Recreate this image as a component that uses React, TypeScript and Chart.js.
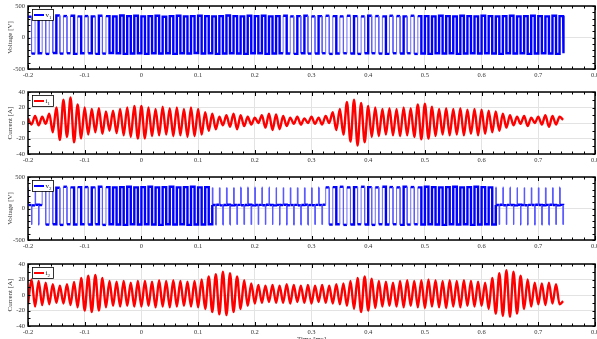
import React, { useEffect, useRef } from 'react';
import { Chart, registerables } from 'chart.js';

Chart.register(...registerables);

// ---------- data ----------
const T_START = -0.2; // first sample time [s]
const HALF_PERIOD = 0.00625; // one plateau / one half cycle
const T_END = 0.745; // recording ends
const X_MIN = -0.2;
const X_MAX = 0.8;
const X_STEP = 0.1;
const X_MINOR = 0.02;

// v1: plateau level of every half cycle [V]
const v1Levels = [
  330, -255, 345, -250, 340, -260, 335, -245, 350, -255, 340, -250, 345, -260, 335, -250,
  340, -250, 335, -260, 345, -255, 340, -245, 335, -250, 350, -260, 340, -255, 345, -250,
  335, -260, 340, -250, 345, -255, 330, -250, 340, -260, 345, -250, 335, -255, 340, -245,
  345, -255, 340, -250, 335, -260, 340, -255, 350, -250, 340, -255, 335, -260, 345, -250,
  340, -250, 345, -260, 335, -255, 340, -250, 345, -255, 335, -260, 340, -250, 345, -255,
  335, -255, 340, -250, 345, -260, 340, -255, 335, -250, 345, -255, 340, -260, 335, -250,
  345, -250, 340, -255, 335, -260, 345, -250, 340, -255, 335, -250, 345, -260, 340, -255,
  340, -260, 335, -250, 345, -255, 340, -250, 335, -260, 345, -255, 340, -250, 335, -255,
  345, -250, 340, -255, 335, -260, 340, -250, 345, -255, 335, -250, 340, -260, 345, -255,
  340, -250, 335, -255, 345, -260, 340, -250,
];

// i1: peak value of every half cycle [A]
const i1Peaks = [
  6, -2, 9, -3, 8, -1, 12, -12,
  20, -22, 30, -18, 33, -25, 24, -20,
  20, -15, 18, -12, 19, -14, 15, -10,
  16, -13, 18, -16, 20, -18, 22, -20,
  22, -20, 20, -17, 18, -16, 21, -15,
  19, -17, 20, -16, 18, -18, 20, -17,
  18, -15, 14, -10, 12, -8, 8, -3,
  10, -5, 12, -8, 10, -4, 8, -2,
  7, 0, 10, -6, 12, -9, 11, -8,
  9, -4, 7, -1, 8, -2, 6, 0,
  8, -1, 7, -2, 9, 0, 14, -9,
  18, -15, 27, -24, 30, -29, 26, -25,
  22, -18, 20, -17, 18, -15, 19, -16,
  18, -17, 20, -16, 19, -18, 24, -21,
  25, -20, 21, -17, 18, -15, 19, -16,
  18, -15, 19, -16, 17, -14, 18, -16,
  17, -14, 16, -12, 15, -10, 12, -6,
  10, -3, 8, -1, 9, -4, 7, 0,
  8, -2, 10, -5, 9, -2, 8, 4,
];

// v2: plateau level of every half cycle [V]; values near 50 V are the "idle" parts
const v2Levels = [
  55, 50, 60, 55, 335, -255, 340, -250, 330, -260, 345, -250, 335, -255, 340, -250,
  340, -255, 335, -250, 345, -260, 340, -250, 335, -255, 340, -260, 345, -250, 335, -255,
  340, -250, 345, -255, 335, -260, 340, -250, 345, -255, 335, -250, 340, -260, 345, -255,
  335, -255, 340, -250, 55, 60, 50, 55, 60, 50, 55, 58, 52, 55, 60, 50,
  55, 58, 52, 60, 55, 50, 58, 55, 60, 52, 55, 58, 50, 55, 60, 55,
  52, 58, 55, 60, 335, -255, 340, -250, 345, -260, 335, -255, 340, -250, 345, -255,
  340, -260, 335, -250, 345, -255, 340, -250, 335, -260, 345, -255, 340, -250, 335, -255,
  345, -250, 340, -255, 335, -260, 340, -250, 345, -255, 335, -250, 340, -260, 345, -255,
  340, -250, 335, -255, 55, 60, 52, 58, 55, 50, 60, 55, 52, 58, 55, 60,
  55, 52, 58, 60, 55, 50, 58, 55,
];
const v2PulseHigh = 330; // short switching spikes during idle parts
const v2PulseLow = -255;
const v2PulseWidth = 0.0008;

// i2: peak value of every half cycle [A]
const i2Peaks = [
  -12, 20, -15, 18, -13, 16, -12, 14,
  -10, 12, -11, 14, -13, 17, -16, 22,
  -20, 25, -22, 26, -20, 22, -16, 18,
  -14, 17, -15, 18, -14, 16, -15, 18,
  -15, 18, -14, 17, -16, 19, -15, 18,
  -16, 19, -15, 18, -14, 17, -15, 18,
  -16, 20, -18, 24, -22, 27, -25, 30,
  -26, 28, -22, 24, -18, 19, -14, 15,
  -11, 13, -10, 12, -9, 13, -10, 12,
  -10, 14, -11, 13, -9, 12, -10, 13,
  -11, 12, -9, 13, -10, 12, -11, 14,
  -12, 15, -14, 18, -18, 22, -22, 24,
  -20, 21, -17, 18, -15, 17, -14, 16,
  -15, 18, -16, 19, -14, 18, -16, 19,
  -17, 20, -15, 19, -16, 18, -17, 19,
  -15, 18, -16, 19, -14, 18, -15, 17,
  -14, 16, -18, 22, -24, 28, -27, 32,
  -28, 30, -24, 25, -18, 20, -15, 16,
  -12, 15, -13, 16, -11, 14, -12, -8,
];

// ---------- point building ----------
type P = { x: number; y: number };

function squarePoints(levels: number[]): P[] {
  const pts: P[] = [];
  levels.forEach((lvl, k) => {
    const ts = T_START + k * HALF_PERIOD;
    const te = Math.min(ts + HALF_PERIOD, T_END);
    if (Math.abs(lvl) < 150) {
      const pulse = k % 2 === 0 ? v2PulseHigh : v2PulseLow;
      pts.push({ x: ts, y: lvl }, { x: ts, y: pulse }, { x: ts + v2PulseWidth, y: pulse }, { x: ts + v2PulseWidth, y: lvl }, { x: te, y: lvl });
    } else {
      pts.push({ x: ts, y: lvl }, { x: te, y: lvl });
    }
  });
  return pts;
}

function peakPoints(peaks: number[]): P[] {
  return peaks.map((v, k) => ({ x: Math.min(T_START + k * HALF_PERIOD, T_END), y: v }));
}

const FONT = "'Liberation Serif', 'DejaVu Serif', serif";

const framePlugin = {
  id: 'frame',
  afterDatasetsDraw(chart: any, _args: any, opts: any) {
    const { ctx, chartArea: a, scales } = chart;
    const xs = scales.x;
    const ys = scales.y;
    ctx.save();
    ctx.strokeStyle = '#000';
    ctx.lineWidth = 1;
    const n = Math.round((X_MAX - X_MIN) / X_MINOR);
    ctx.beginPath();
    for (let i = 0; i <= n; i++) {
      const v = X_MIN + i * X_MINOR;
      const px = Math.round(xs.getPixelForValue(v)) + 0.5;
      const len = i % 5 === 0 ? 4 : 2.5;
      ctx.moveTo(px, a.bottom);
      ctx.lineTo(px, a.bottom - len);
      ctx.moveTo(px, a.top);
      ctx.lineTo(px, a.top + len);
    }
    const ny = Math.round((opts.yMax - opts.yMin) / opts.yMinor);
    for (let i = 0; i <= ny; i++) {
      const v = opts.yMin + i * opts.yMinor;
      const py = Math.round(ys.getPixelForValue(v)) + 0.5;
      const len = 2.5;
      ctx.moveTo(a.left, py);
      ctx.lineTo(a.left + len, py);
      ctx.moveTo(a.right, py);
      ctx.lineTo(a.right - len, py);
    }
    ctx.stroke();
    ctx.lineWidth = 1.5;
    ctx.strokeRect(a.left, a.top, a.right - a.left, a.bottom - a.top);

    // legend
    const lx = a.left + 4;
    const ly = a.top + 3;
    const lw = 21;
    const lh = 11;
    ctx.fillStyle = '#fff';
    ctx.fillRect(lx, ly, lw, lh);
    ctx.lineWidth = 0.8;
    ctx.strokeStyle = '#000';
    ctx.strokeRect(lx + 0.5, ly + 0.5, lw, lh);
    ctx.strokeStyle = opts.color;
    ctx.lineWidth = 2;
    ctx.beginPath();
    ctx.moveTo(lx + 2, ly + lh / 2 + 0.5);
    ctx.lineTo(lx + 12, ly + lh / 2 + 0.5);
    ctx.stroke();
    ctx.fillStyle = '#222';
    ctx.textBaseline = 'alphabetic';
    ctx.font = `7px ${FONT}`;
    const base = opts.label[0];
    ctx.fillText(base, lx + 13.5, ly + 8);
    const bw = ctx.measureText(base).width;
    ctx.font = `5px ${FONT}`;
    ctx.fillText(opts.label[1], lx + 13.5 + bw, ly + 9.5);
    ctx.restore();
  },
};

type PanelCfg = {
  points: P[];
  color: string;
  edgeColor: string;
  label: [string, string];
  yTitle: string;
  yMin: number;
  yMax: number;
  yStep: number;
  yMinor: number;
  square: boolean;
};

const panels: PanelCfg[] = [
  { points: squarePoints(v1Levels), color: '#0000ff', edgeColor: '#5a5aff', label: ['v', '1'], yTitle: 'Voltage [V]', yMin: -500, yMax: 500, yStep: 500, yMinor: 100, square: true },
  { points: peakPoints(i1Peaks), color: '#ff0000', edgeColor: '#ff0000', label: ['i', '1'], yTitle: 'Current [A]', yMin: -40, yMax: 40, yStep: 20, yMinor: 10, square: false },
  { points: squarePoints(v2Levels), color: '#0000ff', edgeColor: '#5a5aff', label: ['v', '2'], yTitle: 'Voltage [V]', yMin: -500, yMax: 500, yStep: 500, yMinor: 100, square: true },
  { points: peakPoints(i2Peaks), color: '#ff0000', edgeColor: '#ff0000', label: ['i', '2'], yTitle: 'Current [A]', yMin: -40, yMax: 40, yStep: 20, yMinor: 10, square: false },
];

const CANVAS_TOPS = [0, 86, 171, 258];
const PLOT_HEIGHTS = [63, 62, 63, 62];
const CANVAS_H = 85;
const CANVAS_W = 597;

function Panel({ cfg, idx }: { cfg: PanelCfg; idx: number }) {
  const ref = useRef<HTMLCanvasElement>(null);
  useEffect(() => {
    const last = idx === panels.length - 1;
    const xAxisH = CANVAS_H - 6 - PLOT_HEIGHTS[idx];
    const isVert = (c: any) => c.p0.parsed.x === c.p1.parsed.x;
    const chart = new Chart(ref.current as HTMLCanvasElement, {
      type: 'line',
      data: {
        datasets: [
          {
            label: cfg.label.join(''),
            data: cfg.points as any,
            borderColor: cfg.color,
            backgroundColor: cfg.color,
            borderWidth: cfg.square ? 2.2 : 2.4,
            pointRadius: 0,
            tension: cfg.square ? 0 : 0.4,
            cubicInterpolationMode: cfg.square ? 'default' : 'monotone',
            fill: false,
            segment: cfg.square
              ? {
                  borderWidth: (c: any) => (isVert(c) ? 0.9 : 2.4),
                  borderColor: (c: any) => (isVert(c) ? cfg.edgeColor : cfg.color),
                }
              : undefined,
          } as any,
        ],
      },
      options: {
        animation: false,
        responsive: false,
        events: [],
        devicePixelRatio: 1,
        layout: { padding: { top: 6, right: 2, left: 0, bottom: 0 } },
        plugins: {
          legend: { display: false },
          tooltip: { enabled: false },
          frame: { yMin: cfg.yMin, yMax: cfg.yMax, yMinor: cfg.yMinor, color: cfg.color, label: cfg.label },
        } as any,
        scales: {
          x: {
            type: 'linear',
            min: X_MIN,
            max: X_MAX,
            border: { display: false },
            grid: { color: '#e3e3e3', lineWidth: 1, drawTicks: false },
            ticks: {
              stepSize: X_STEP,
              autoSkip: false,
              maxRotation: 0,
              padding: 2,
              color: '#333',
              font: { family: FONT, size: 6.5 },
              callback: (v: any) => {
                const r = Math.round(Number(v) * 10) / 10;
                return r === 0 ? '0' : String(r);
              },
            },
            title: {
              display: last,
              text: 'Time [ms]',
              color: '#333',
              font: { family: FONT, size: 7 },
              padding: { top: 0, bottom: 0 },
            },
            afterFit: (s: any) => {
              s.height = xAxisH;
              s.paddingLeft = 0;
              s.paddingRight = 0;
            },
          },
          y: {
            type: 'linear',
            min: cfg.yMin,
            max: cfg.yMax,
            border: { display: false },
            grid: { color: '#e3e3e3', lineWidth: 1, drawTicks: false },
            ticks: {
              stepSize: cfg.yStep,
              padding: 3,
              color: '#333',
              font: { family: FONT, size: 6.5 },
              callback: (v: any) => String(Math.round(Number(v))),
            },
            title: {
              display: true,
              text: cfg.yTitle,
              color: '#333',
              font: { family: FONT, size: 7 },
              padding: { top: 6, bottom: 0 },
            },
            afterFit: (s: any) => {
              s.width = 28;
              s.paddingTop = 0;
              s.paddingBottom = 0;
            },
          },
        },
      },
      plugins: [framePlugin as any],
    });
    return () => chart.destroy();
  }, [cfg, idx]);
  return (
    <canvas
      ref={ref}
      width={CANVAS_W}
      height={CANVAS_H}
      style={{ position: 'absolute', left: 0, top: CANVAS_TOPS[idx], width: CANVAS_W, height: CANVAS_H }}
    />
  );
}

export default function App() {
  return (
    <div
      style={{
        position: 'fixed',
        left: 0,
        top: 0,
        width: 597,
        height: 339,
        overflow: 'hidden',
        background: '#fff',
      }}
    >
      {panels.map((p, i) => (
        <Panel key={i} cfg={p} idx={i} />
      ))}
    </div>
  );
}
